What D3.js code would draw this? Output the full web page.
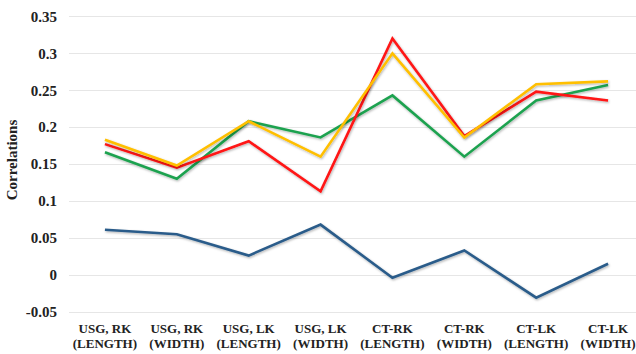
<!DOCTYPE html>
<html>
<head>
<meta charset="utf-8">
<script src="https://cdn.jsdelivr.net/npm/d3@7"></script>
<style>
  html, body { margin: 0; padding: 0; background: #fff; }
  svg { display: block; }
</style>
</head>
<body>
<svg id="chart" width="636" height="354"></svg>
<script>
const categories = [
  ["USG, RK", "(LENGTH)"], ["USG, RK", "(WIDTH)"], ["USG, LK", "(LENGTH)"], ["USG, LK", "(WIDTH)"],
  ["CT-RK", "(LENGTH)"], ["CT-RK", "(WIDTH)"], ["CT-LK", "(LENGTH)"], ["CT-LK", "(WIDTH)"]
];
const yTicks = [-0.05, 0, 0.05, 0.1, 0.15, 0.2, 0.25, 0.3, 0.35];
const yTickLabels = ["-0.05", "0", "0.05", "0.1", "0.15", "0.2", "0.25", "0.3", "0.35"];
const blueValues   = [0.061, 0.055, 0.026, 0.068, -0.004, 0.033, -0.031, 0.015];
const greenValues  = [0.166, 0.130, 0.208, 0.186, 0.243, 0.160, 0.236, 0.257];
const redValues    = [0.177, 0.145, 0.181, 0.113, 0.320, 0.188, 0.248, 0.236];
const yellowValues = [0.183, 0.148, 0.208, 0.160, 0.300, 0.186, 0.258, 0.262];
const seriesList = [
  { name: "blue", values: blueValues, color: "#2b5c8a" },
  { name: "green", values: greenValues, color: "#1fa250" },
  { name: "red", values: redValues, color: "#ff1414" },
  { name: "yellow", values: yellowValues, color: "#ffbf00" }
];

const svg = d3.select("#chart");
const left = 69, right = 636;
const x = d3.scaleBand().domain(d3.range(categories.length)).range([69, 644]);
const y = d3.scaleLinear().domain([-0.05, 0.35]).range([311.7, 16.4]);

const defs = svg.append("defs");
const f = defs.append("filter").attr("id", "sh").attr("x", "-10%").attr("y", "-10%").attr("width", "120%").attr("height", "130%");
f.append("feDropShadow").attr("dx", 0.8).attr("dy", 1.2).attr("stdDeviation", 0.8)
  .attr("flood-color", "#000").attr("flood-opacity", 0.3);

// gridlines
svg.append("g").selectAll("line").data(yTicks).join("line")
  .attr("x1", left).attr("x2", right)
  .attr("y1", d => Math.round(y(d)) + 0.5).attr("y2", d => Math.round(y(d)) + 0.5)
  .attr("stroke", "#e6e6e6").attr("stroke-width", 1.2);

// y axis labels
const yAxis = d3.axisLeft(y).tickValues(yTicks).tickFormat((d, i) => yTickLabels[i]).tickSize(0).tickPadding(0);
const gy = svg.append("g").attr("transform", "translate(57,0)").call(yAxis);
gy.select(".domain").remove();
gy.selectAll("text").attr("font-family", "'Liberation Serif', 'Times New Roman', serif")
  .attr("font-size", 15).attr("font-weight", "bold").attr("fill", "#222");

// y title
svg.append("text")
  .attr("transform", "translate(17,160) rotate(-90)")
  .attr("text-anchor", "middle")
  .attr("font-family", "'Liberation Serif', 'Times New Roman', serif")
  .attr("font-size", 15).attr("font-weight", "bold").attr("fill", "#222")
  .text("Correlations");

// x labels
const xl = svg.append("g").selectAll("text").data(categories).join("text")
  .attr("text-anchor", "middle")
  .attr("font-family", "'Liberation Serif', 'Times New Roman', serif")
  .attr("font-size", 13).attr("font-weight", "bold").attr("fill", "#222");
xl.append("tspan").attr("x", (d, i) => x(i) + x.bandwidth() / 2).attr("y", 333).text(d => d[0]);
xl.append("tspan").attr("x", (d, i) => x(i) + x.bandwidth() / 2).attr("y", 348).text(d => d[1]);

// lines
const line = d3.line().x((d, i) => x(i) + x.bandwidth() / 2).y(d => y(d));
svg.append("g").selectAll("path").data(seriesList).join("path")
  .attr("d", s => line(s.values))
  .attr("fill", "none").attr("stroke", s => s.color).attr("stroke-width", 2.6)
  .attr("stroke-linejoin", "miter").attr("filter", "url(#sh)");
</script>
</body>
</html>
